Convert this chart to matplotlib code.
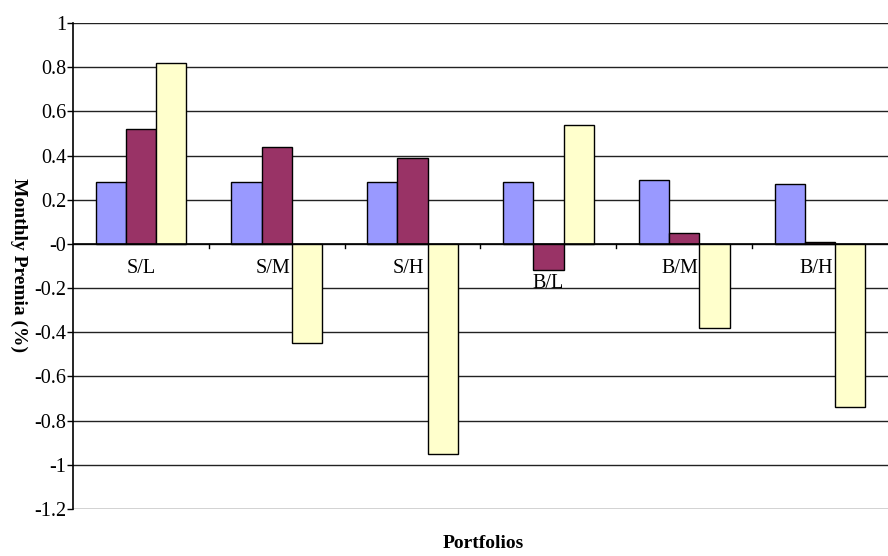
import numpy as np
import matplotlib
matplotlib.use("Agg")
import matplotlib.pyplot as plt
from matplotlib.ticker import FuncFormatter

plt.rcParams["font.family"] = ["Liberation Serif", "DejaVu Serif"]

portfolios = ["S/L", "S/M", "S/H", "B/L", "B/M", "B/H"]
series_a = [0.28, 0.28, 0.28, 0.28, 0.29, 0.27]
series_b = [0.52, 0.44, 0.39, -0.12, 0.05, 0.01]
series_c = [0.82, -0.45, -0.95, 0.54, -0.38, -0.74]

colors = ["#9999FF", "#993366", "#FFFFCC"]

fig = plt.figure(figsize=(8.88, 5.56), dpi=100)
ax = fig.add_axes([0.0822, 0.0845, 0.9178, 0.8741])

x = np.arange(len(portfolios))
w = 1 / 4.5
for i, (vals, c) in enumerate(zip([series_a, series_b, series_c], colors)):
    ax.bar(x + (i - 1) * w, vals, width=w, color=c, edgecolor="black",
           linewidth=1, zorder=3)

ax.set_xlim(-0.5, len(portfolios) - 0.5)
ax.set_ylim(-1.2, 1.0)
ax.set_yticks(np.arange(-1.2, 1.01, 0.2))
ax.yaxis.set_major_formatter(FuncFormatter(lambda v, p: "%g" % round(v, 1)))
ax.tick_params(axis="y", labelsize=14.5, length=4, width=1, direction="out", pad=1)
ax.grid(axis="y", color="#222222", linewidth=1, zorder=0)

# category axis sits on the zero line
ax.set_xticks([])
ax.axhline(0, color="black", linewidth=1.2, zorder=4)
for b in np.arange(0.5, len(portfolios) - 0.5, 1.0):
    ax.plot([b, b], [0, -0.02], color="black", linewidth=1, zorder=4)

label_y = [-0.11, -0.11, -0.11, -0.18, -0.11, -0.11]
label_dx = [0.0, -0.03, -0.03, 0.0, -0.03, -0.03]
for xi, name, ly, dx in zip(x, portfolios, label_y, label_dx):
    ax.text(xi + dx, ly, name, ha="center", va="center", fontsize=14.5, zorder=5)

for side in ["top", "right", "bottom"]:
    ax.spines[side].set_visible(False)
ax.spines["left"].set_linewidth(1.2)

fig.text(0.021, 0.523, "Monthly Premia (%)", ha="center", va="center",
         rotation=-90, fontsize=14, fontweight="bold")
fig.text(0.544, 0.023, "Portfolios", ha="center", va="center",
         fontsize=14, fontweight="bold")

fig.savefig("out.png", dpi=100)
